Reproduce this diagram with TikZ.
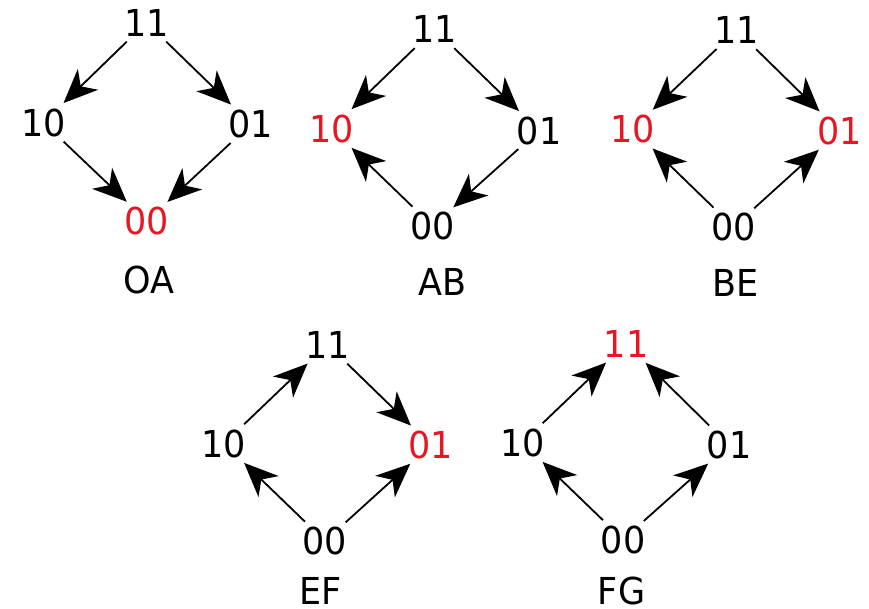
\documentclass[tikz,border=0pt]{standalone}
\usepackage{fontspec}
\usepackage{graphicx}
\setmainfont{DejaVu Sans}
\usetikzlibrary{arrows.meta}
\definecolor{hl}{RGB}{232,22,34}
% glyphs are set slightly taller than wide
\newcommand\tall[1]{\scalebox{1}[1.06]{#1}}
\tikzset{
  st/.style={circle, font=\fontsize{35}{40}\selectfont, inner sep=1pt},
  hot/.style={st, text=hl},
  caption/.style={font=\fontsize{35}{40}\selectfont, inner sep=0pt},
  edge/.style={line width=1.8pt, -{Stealth[length=34pt, width=29pt, inset=10pt]}}
}
\begin{document}
\begin{tikzpicture}[x=1pt, y=-1pt]
\useasboundingbox (0,0) rectangle (869,609);

% OA
\node[st]  (a11) at (146.5,22.5) {\tall{11}};
\node[st]  (a10) at (43.5,122.5) {\tall{10}};
\node[st]  (a01) at (251,124)    {\tall{01}};
\node[hot] (a00) at (147,221)    {\tall{00}};
\node[caption] (aL) at (148.5,280) {\tall{OA}};
\draw[edge] (a11) -- (a10);
\draw[edge] (a11) -- (a01);
\draw[edge] (a10) -- (a00);
\draw[edge] (a01) -- (a00);

% AB
\node[st]  (b11) at (434.5,29)    {\tall{11}};
\node[hot] (b10) at (331.5,128.5) {\tall{10}};
\node[st]  (b01) at (539,130.5)   {\tall{01}};
\node[st]  (b00) at (432.5,226)   {\tall{00}};
\node[caption] (bL) at (442.5,281.5) {\tall{AB}};
\draw[edge] (b11) -- (b10);
\draw[edge] (b11) -- (b01);
\draw[edge] (b00) -- (b10);
\draw[edge] (b01) -- (b00);

% BE
\node[st]  (c11) at (736.5,30)  {\tall{11}};
\node[hot] (c10) at (632.5,129) {\tall{10}};
\node[hot] (c01) at (839.5,131) {\tall{01}};
\node[st]  (c00) at (733.5,227) {\tall{00}};
\node[caption] (cL) at (736,282.5) {\tall{BE}};
\draw[edge] (c11) -- (c10);
\draw[edge] (c11) -- (c01);
\draw[edge] (c00) -- (c10);
\draw[edge] (c00) -- (c01);

% EF
\node[st]  (d11) at (327.5,344.5) {\tall{11}};
\node[st]  (d10) at (224,443.5)   {\tall{10}};
\node[hot] (d01) at (431,445)     {\tall{01}};
\node[st]  (d00) at (325,541)     {\tall{00}};
\node[caption] (dL) at (320.5,590.5) {\tall{EF}};
\draw[edge] (d10) -- (d11);
\draw[edge] (d11) -- (d01);
\draw[edge] (d00) -- (d10);
\draw[edge] (d00) -- (d01);

% FG
\node[hot] (e11) at (626,343.5)   {\tall{11}};
\node[st]  (e10) at (522.5,442.5) {\tall{10}};
\node[st]  (e01) at (729,445)     {\tall{01}};
\node[st]  (e00) at (623,539.5)   {\tall{00}};
\node[caption] (eL) at (621.5,591) {\tall{FG}};
\draw[edge] (e10) -- (e11);
\draw[edge] (e01) -- (e11);
\draw[edge] (e00) -- (e10);
\draw[edge] (e00) -- (e01);
\end{tikzpicture}
\end{document}
